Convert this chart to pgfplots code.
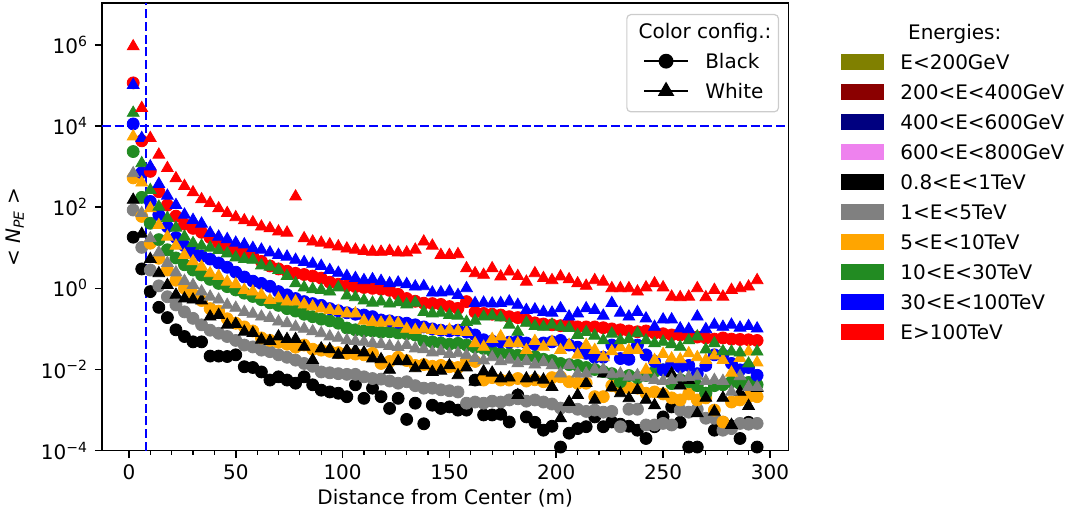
\documentclass[border=0pt]{standalone}
\usepackage{fontspec}
\setmainfont{DejaVu Sans}[ItalicFont={DejaVu Sans Oblique}]
\usepackage{pgfplots}
\usepackage{pgfplotstable}
\pgfplotsset{compat=1.18}
\definecolor{cOlive}{HTML}{808000}
\definecolor{cDarkred}{HTML}{8B0000}
\definecolor{cNavy}{HTML}{000080}
\definecolor{cViolet}{HTML}{EE82EE}
\definecolor{cGray}{HTML}{808080}
\definecolor{cOrange}{HTML}{FFA500}
\definecolor{cGreen}{HTML}{228B22}
\definecolor{cBlue}{HTML}{0000FF}
\definecolor{cRed}{HTML}{FF0000}
\definecolor{cFrame}{HTML}{CCCCCC}

\pgfplotstableread{
x BkC GrC OC GC BC RC BkT GrT OT GT BT RT
2 18.2 85 525 2340 11200 115000 151 680 5500 21000 102000 910000
6 3.0 10.2 59 174 710 4300 21.9 71 400 1200 5000 27500
10 0.83 2.82 12.9 40 138 760 5.25 17 93 263 1000 5000
14 0.34 1.15 5.5 15.8 65 240 2.34 7.6 36 102 370 1950
18 0.19 0.62 2.82 8.9 33 112 1.2 4.2 18.6 54 190 910
22 0.095 0.39 1.58 5.6 17.8 60 0.69 2.45 11.2 31 112 510
26 0.065 0.263 1.0 3.8 11.2 38 0.56 1.51 6.6 18.6 65 330
30 0.048 0.182 0.71 2.82 7.9 30 0.525 1.2 4.6 12.9 48 230
34 0.048 0.126 0.50 2.14 6.3 24 0.50 0.83 3.4 11.2 39 155
38 0.0214 0.093 0.316 1.66 5.25 17.8 0.20 0.62 2.34 10 23 126
42 0.0214 0.078 0.275 1.32 4.2 13.2 0.22 0.525 2.0 8.7 18.6 93
46 0.0209 0.065 0.178 1.1 3.3 10.5 0.126 0.39 1.45 7.2 16.2 71
50 0.023 0.052 0.138 0.91 2.5 8.7 0.132 0.33 1.26 5.75 13.2 56
54 0.0117 0.040 0.112 0.76 1.9 7.2 0.085 0.26 0.91 5.25 12 47
58 0.0112 0.036 0.089 0.63 1.5 6.0 0.079 0.234 0.83 5.0 9.8 42
62 0.0087 0.030 0.060 0.525 1.32 4.6 0.054 0.20 0.69 3.63 8.9 33
66 0.0055 0.0275 0.052 0.44 1.12 3.55 0.050 0.186 0.51 3.39 7.6 30
70 0.0066 0.023 0.047 0.38 0.83 3.0 0.065 0.151 0.56 2.82 6.6 25
74 0.0055 0.020 0.042 0.316 0.69 2.63 0.056 0.138 0.47 2.0 6.0 23.4
78 0.0046 0.017 0.0355 0.275 0.56 2.34 0.056 0.112 0.47 1.32 5.0 182
82 0.0066 0.0141 0.040 0.23 0.47 2.19 0.036 0.10 0.40 1.05 4.4 17
86 0.0042 0.0120 0.0316 0.20 0.42 2.0 0.017 0.087 0.355 0.95 4.0 14.1
90 0.0031 0.0087 0.030 0.174 0.38 1.78 0.033 0.078 0.316 0.91 3.55 13.2
94 0.0028 0.0083 0.028 0.158 0.316 1.41 0.0316 0.065 0.29 0.83 2.8 12
98 0.0026 0.0079 0.026 0.138 0.28 1.26 0.0229 0.060 0.275 1.05 2.4 10.7
102 0.00214 0.0076 0.025 0.105 0.25 1.15 0.030 0.052 0.24 0.66 2.0 9.5
106 0.0042 0.0076 0.024 0.095 0.23 1.1 0.030 0.050 0.24 0.60 1.78 8.9
110 0.00195 0.0066 0.023 0.089 0.22 1.05 0.0263 0.048 0.158 0.50 1.58 8.3
114 0.00347 0.0060 0.025 0.089 0.20 1.0 0.0186 0.044 0.148 0.44 1.66 7.9
118 0.00214 0.0058 0.0141 0.083 0.166 0.95 0.0178 0.042 0.141 0.47 1.51 7.9
122 0.0011 0.0052 0.0158 0.085 0.158 0.89 0.0098 0.038 0.151 0.42 1.32 8.3
126 0.00195 0.0046 0.020 0.079 0.145 0.71 0.0158 0.0355 0.138 0.45 1.38 7.6
130 0.00059 0.0050 0.0166 0.076 0.138 0.56 0.0158 0.040 0.10 0.40 1.26 7.6
134 0.00148 0.0040 0.0126 0.071 0.126 0.48 0.0107 0.033 0.093 0.44 1.1 8.9
138 0.00046 0.00347 0.0132 0.050 0.112 0.43 0.0126 0.0316 0.10 0.26 1.12 14.1
142 0.00132 0.00347 0.0120 0.048 0.10 0.42 0.0087 0.0263 0.093 0.24 0.78 11.2
146 0.0011 0.00316 0.0126 0.045 0.093 0.40 0.0093 0.0282 0.089 0.25 0.79 6.6
150 0.0012 0.0030 0.0117 0.042 0.089 0.355 0.0126 0.024 0.095 0.22 0.83 6.6
154 0.0010 0.0028 0.0112 0.044 0.093 0.32 0.0072 0.0251 0.089 0.21 0.68 6.9
158 0.0010 0.00148 0.017 0.040 0.083 0.47 0.0112 0.0224 0.083 0.148 1.0 3.1
162 0.0055 0.00158 0.0158 0.0355 0.071 0.26 0.0050 0.019 0.044 0.158 0.43 2.34
166 0.00076 0.00148 0.0055 0.033 0.054 0.24 0.0089 0.0166 0.036 0.20 0.44 2.14
170 0.00076 0.00166 0.0063 0.028 0.050 0.23 0.0083 0.020 0.056 0.21 0.42 3.1
174 0.00079 0.00158 0.0055 0.025 0.048 0.22 0.0060 0.0158 0.065 0.19 0.43 1.95
178 0.00051 0.00178 0.0055 0.024 0.047 0.20 0.0063 0.0174 0.044 0.126 0.47 2.57
182 0.00234 0.0019 0.0060 0.0224 0.050 0.19 0.00234 0.0141 0.044 0.085 0.39 2.0
186 0.00068 0.00166 0.0052 0.020 0.045 0.166 0.0060 0.0158 0.030 0.141 0.29 1.45
190 0.0005 0.00178 0.0056 0.021 0.042 0.141 0.0063 0.0132 0.050 0.117 0.30 2.34
194 0.00032 0.00158 0.0050 0.0178 0.045 0.132 0.0056 0.0151 0.036 0.112 0.26 1.78
198 0.0004 0.00141 0.0063 0.0166 0.048 0.126 0.0037 0.0126 0.048 0.126 0.25 1.58
202 0.000123 0.00112 0.0066 0.0141 0.052 0.12 0.00063 0.0079 0.030 0.112 0.32 1.95
206 0.00027 0.0012 0.0050 0.0132 0.040 0.126 0.00158 0.0129 0.040 0.105 0.20 1.66
210 0.00035 0.00105 0.0046 0.0126 0.0355 0.112 0.00234 0.0079 0.023 0.071 0.24 1.32
214 0.00039 0.00093 0.0046 0.0112 0.025 0.112 0.0046 0.0079 0.040 0.083 0.32 1.15
218 0.00068 0.0010 0.00214 0.010 0.020 0.112 0.00178 0.010 0.030 0.068 0.29 1.58
222 0.00039 0.00089 0.00214 0.0089 0.020 0.107 0.0079 0.010 0.020 0.052 0.21 1.45
226 0.00051 0.00093 0.0040 0.0079 0.040 0.1 0.0036 0.0076 0.028 0.076 0.43 1.0
230 0.00045 0.00039 0.00316 0.0050 0.0186 0.095 0.0026 0.0079 0.035 0.052 0.25 1.0
234 0.0004 0.00105 0.00355 0.0071 0.0178 0.089 0.00195 0.0066 0.030 0.056 0.20 1.0
238 0.00032 0.00105 0.00347 0.0063 0.040 0.085 0.0031 0.0072 0.030 0.078 0.26 0.83
242 0.0002 0.00043 0.0026 0.0071 0.023 0.089 0.00178 0.0063 0.0098 0.052 0.18 1.05
246 0.00039 0.00043 0.0028 0.0089 0.0158 0.079 0.00132 0.0055 0.017 0.044 0.112 1.32
250 0.00068 0.00047 0.0025 0.0098 0.0098 0.076 0.0025 0.0052 0.024 0.048 0.17 1.05
254 0.0012 0.00043 0.0020 0.0045 0.0141 0.071 0.0079 0.0055 0.0186 0.042 0.17 0.62
258 0.0005 0.0010 0.00178 0.0056 0.0117 0.071 0.0040 0.0063 0.0178 0.036 0.102 0.60
262 0.000123 0.00089 0.0025 0.0050 0.0126 0.066 0.0055 0.0065 0.025 0.052 0.098 0.62
266 0.000123 0.00105 0.00178 0.0040 0.0079 0.063 0.00083 0.0068 0.020 0.065 0.20 1.0
270 0.0026 0.00063 0.0020 0.0026 0.0126 0.060 0.0020 0.0052 0.017 0.031 0.098 0.60
274 0.00032 0.00063 0.0010 0.0040 0.023 0.056 0.00091 0.0055 0.022 0.044 0.126 0.91
278 0.0005 0.00032 0.00051 0.0042 0.023 0.060 0.0020 0.0052 0.017 0.028 0.112 0.62
282 0.0004 0.00035 0.00158 0.0050 0.0141 0.056 0.00043 0.0028 0.0083 0.0275 0.126 0.91
286 0.0002 0.00047 0.00178 0.0045 0.0098 0.055 0.0028 0.0068 0.019 0.026 0.107 1.0
290 0.0005 0.00045 0.00214 0.0048 0.0112 0.054 0.00126 0.0037 0.0275 0.014 0.117 1.1
294 0.000123 0.00047 0.00214 0.0042 0.0072 0.052 0.0035 0.0037 0.0148 0.0275 0.102 1.58
}\data

\pgfplotsset{
  circ/.style={only marks, mark=*, mark size=3pt, color=#1, mark options={draw=none}, forget plot},
  tri/.style={only marks, mark=triangle*, mark size=3.4pt, color=#1, mark options={draw=none}, forget plot},
}

\begin{document}
\begin{tikzpicture}[font=\fontsize{10}{12}\selectfont]
\begin{axis}[
  at={(0,0)}, anchor=south west,
  scale only axis, width=343.15pt, height=223.7pt,
  xmin=-12.6, xmax=308.6,
  ymode=log, ymin=1e-4, ymax=1.05e7,
  xtick={0,50,...,300},
  minor x tick num=4,
  xticklabel={\pgfmathprintnumber[assume math mode=true]{\tick}},
  ytick={1e-4,1e-2,1,1e2,1e4,1e6},
  yticklabels={10\textsuperscript{−4},10\textsuperscript{−2},10\textsuperscript{0},10\textsuperscript{2},10\textsuperscript{4},10\textsuperscript{6}},
  yminorticks=false,
  tick align=outside, tick pos=left,
  major tick length=3.5pt, minor tick length=2pt,
  every major tick/.style={black, line width=0.8pt},
  every minor tick/.style={black, line width=0.6pt},
  axis line style={line width=0.8pt},
  xlabel={Distance from Center (m)},
  ylabel={< \textit{N}\textsubscript{\textit{PE}} >},
  xlabel style={at={(axis description cs:0.5,-0.1198)}, anchor=base},
  ylabel style={at={(axis description cs:-0.1268,0.5)}, anchor=center, rotate=0},
  legend cell align=left,
  legend style={at={(0.9865,0.9761)}, anchor=north east, draw=cFrame, line width=0.6pt,
    rounded corners=2pt, fill=white, inner xsep=3.5pt, inner ysep=4.3pt,
    row sep=5pt, column sep=8pt,
    nodes={inner sep=0pt, text height=7.6pt, text depth=2.4pt},
    font=\fontsize{10}{12}\selectfont},
  legend image code/.code={
    \path (0pt,0pt) (26.5pt,0pt);
    \draw[mark repeat=2, mark phase=2, #1] plot coordinates {(4.5pt,1pt) (15.5pt,1pt) (26.5pt,1pt)};
  },
]
\addlegendimage{empty legend}\addlegendentry{\hspace*{-33.35pt}Color config.:}
\addlegendimage{black, line width=1.2pt, mark=*, mark size=3.1pt, mark options={draw=none}}\addlegendentry{Black}
\addlegendimage{black, line width=1.2pt, mark=triangle*, mark size=3.6pt, mark options={draw=none}}\addlegendentry{White}

\addplot[circ=black] table[x=x,y=BkC]{\data};
\addplot[circ=cGray] table[x=x,y=GrC]{\data};
\addplot[circ=cOrange] table[x=x,y=OC]{\data};
\addplot[circ=cGreen] table[x=x,y=GC]{\data};
\addplot[circ=cBlue] table[x=x,y=BC]{\data};
\addplot[circ=cRed] table[x=x,y=RC]{\data};
\addplot[tri=black] table[x=x,y=BkT]{\data};
\addplot[tri=cGray] table[x=x,y=GrT]{\data};
\addplot[tri=cOrange] table[x=x,y=OT]{\data};
\addplot[tri=cGreen] table[x=x,y=GT]{\data};
\addplot[tri=cBlue] table[x=x,y=BT]{\data};
\addplot[tri=cRed] table[x=x,y=RT]{\data};

\addplot[cBlue, line width=1.2pt, dash pattern=on 4.44pt off 1.92pt, forget plot] coordinates {(-12.6,1e4) (308.6,1e4)};
\addplot[cBlue, line width=1.2pt, dash pattern=on 4.44pt off 1.92pt, forget plot] coordinates {(8,1e-4) (8,1.05e7)};
\end{axis}

\begin{axis}[
  at={(0,0)}, anchor=south west,
  scale only axis, width=343.15pt, height=223.7pt,
  hide axis, xmin=0, xmax=1, ymin=0, ymax=1,
  legend cell align=left,
  legend style={at={(1.0768,0.9542)}, anchor=north west, draw=none, fill=none,
    inner sep=0pt, row sep=5pt, column sep=8pt,
    nodes={inner sep=0pt, text height=7.6pt, text depth=2.4pt},
    font=\fontsize{10}{12}\selectfont},
  legend image code/.code={\path[#1] (0pt,-3pt) rectangle (21.5pt,5pt);},
]
\addlegendimage{empty legend}\addlegendentry{\hspace*{3.85pt}Energies:}
\addlegendimage{fill=cOlive, draw=none}\addlegendentry{E<200GeV}
\addlegendimage{fill=cDarkred, draw=none}\addlegendentry{200<E<400GeV}
\addlegendimage{fill=cNavy, draw=none}\addlegendentry{400<E<600GeV}
\addlegendimage{fill=cViolet, draw=none}\addlegendentry{600<E<800GeV}
\addlegendimage{fill=black, draw=none}\addlegendentry{0.8<E<1TeV}
\addlegendimage{fill=cGray, draw=none}\addlegendentry{1<E<5TeV}
\addlegendimage{fill=cOrange, draw=none}\addlegendentry{5<E<10TeV}
\addlegendimage{fill=cGreen, draw=none}\addlegendentry{10<E<30TeV}
\addlegendimage{fill=cBlue, draw=none}\addlegendentry{30<E<100TeV}
\addlegendimage{fill=cRed, draw=none}\addlegendentry{E>100TeV}
\end{axis}
\pgfresetboundingbox
\path[use as bounding box] (-51pt,-33.15pt) rectangle (486.5pt,225.35pt);
\end{tikzpicture}
\end{document}
